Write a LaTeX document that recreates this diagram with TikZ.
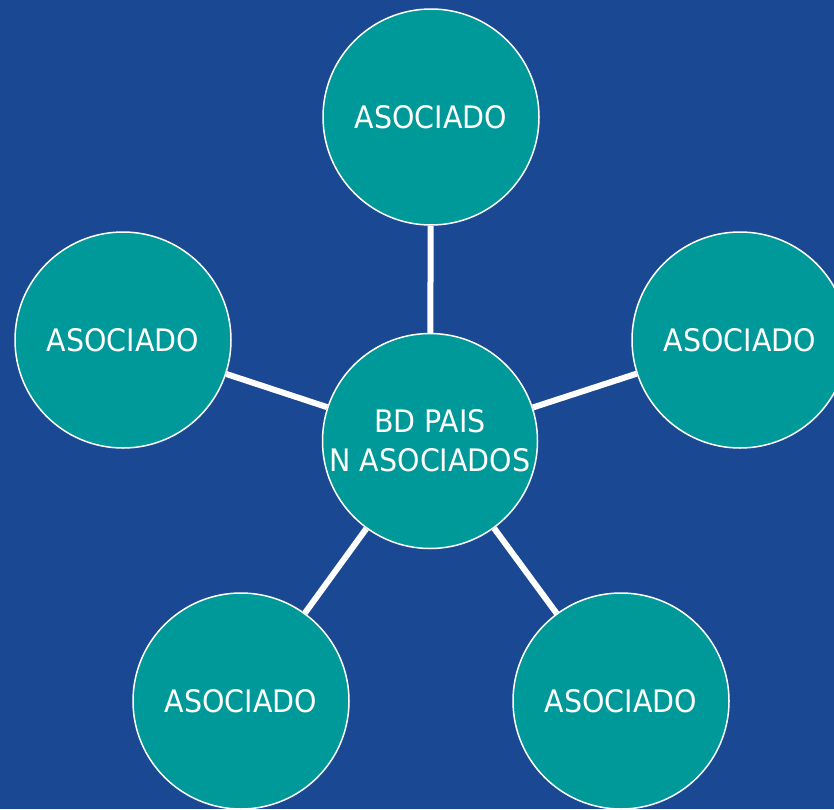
\documentclass[tikz,border=0pt]{standalone}
\usepackage{fontspec}
\setmainfont{DejaVu Sans}[FakeStretch=0.92]
\usetikzlibrary{positioning}
\definecolor{fondo}{RGB}{27,72,146}
\definecolor{verde}{RGB}{0,153,153}

\begin{document}
\begin{tikzpicture}[x=1pt,y=-1pt,
socio/.style={circle,draw=white,line width=1.5pt,fill=verde,text=white,
  minimum size=216pt,inner sep=0pt,align=center,
  font=\fontsize{31}{39}\selectfont},
enlace/.style={draw=white,line width=6pt}]
\clip (0,0) rectangle (834,809);
\fill[fondo] (0,0) rectangle (834,809);
\node[socio,minimum size=215pt] (bd) at (430,441) {BD PAIS\\N ASOCIADOS};
\node[socio] (arriba) at (431,117) {ASOCIADO};
\node[socio] (izq) at (123,340) {ASOCIADO};
\node[socio] (der) at (740,340) {ASOCIADO};
\node[socio] (abizq) at (241,701) {ASOCIADO};
\node[socio] (abder) at (621,701) {ASOCIADO};
\path[enlace]
(bd) edge (arriba)
(bd) edge (izq)
(bd) edge (der)
(bd) edge (abizq)
(bd) edge (abder);
\end{tikzpicture}
\end{document}
